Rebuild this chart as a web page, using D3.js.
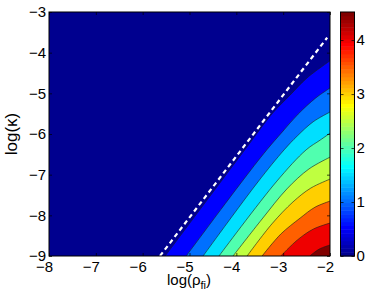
<!DOCTYPE html>
<html>
<head>
<meta charset="utf-8">
<script src="https://cdn.jsdelivr.net/npm/d3@7"></script>
<style>
  body { margin: 0; background: #fff; }
  text { font-family: "Liberation Sans", Arial, Helvetica, sans-serif; }
</style>
</head>
<body>
<div id="chart"></div>
<script>
// contour levels and top of the colour range
var levels = [0.5, 1.0, 1.5, 2.0, 2.5, 3.0, 3.5, 4.0, 4.5];
var colorMax = 4.52;

// contour lines as [log(rho_fi), log(kappa)] points
var c05 = [[-5.52, -9.00], [-3.82, -6.39], [-3.22, -5.48], [-2.85, -5.04], [-2.49, -4.62], [-2.00, -4.20]];
var c10 = [[-5.07, -9.00], [-3.92, -7.23], [-3.35, -6.39], [-3.02, -5.95], [-2.68, -5.51], [-2.30, -5.11], [-2.00, -4.87]];
var c15 = [[-4.71, -9.00], [-3.54, -7.18], [-2.98, -6.39], [-2.70, -6.05], [-2.36, -5.70], [-2.00, -5.46]];
var c20 = [[-4.37, -9.00], [-3.15, -7.18], [-2.51, -6.39], [-2.21, -6.15], [-2.00, -5.98]];
var c25 = [[-4.07, -9.00], [-3.45, -8.09], [-2.92, -7.35], [-2.45, -6.86], [-2.00, -6.57]];
var c30 = [[-3.77, -9.00], [-3.24, -8.21], [-2.79, -7.67], [-2.41, -7.33], [-2.00, -7.11]];
var c35 = [[-3.45, -9.00], [-3.05, -8.46], [-2.64, -8.07], [-2.32, -7.80], [-2.00, -7.65]];
var c40 = [[-3.05, -9.00], [-2.70, -8.61], [-2.36, -8.34], [-2.00, -8.19]];
var c45 = [[-2.43, -9.00], [-2.23, -8.83], [-2.00, -8.73]];
var contourLines = [c05, c10, c15, c20, c25, c30, c35, c40, c45];

// white dashed boundary line
var dashLine = [[-5.63, -9.00], [-2.06, -3.63]];

var xTicks = [-8, -7, -6, -5, -4, -3, -2];
var yTicks = [-9, -8, -7, -6, -5, -4, -3];
var cTicks = [0, 1, 2, 3, 4];

var svgWidth = 368;
var svgHeight = 297;

var plot = { left: 49, right: 330, top: 12, bottom: 256 };
var bar = { left: 340.5, right: 354.5 };

var svg = d3.select("#chart")
  .append("svg")
  .attr("width", svgWidth)
  .attr("height", svgHeight);

var x = d3.scaleLinear().domain([-8, -2]).range([plot.left, plot.right]);
var y = d3.scaleLinear().domain([-9, -3]).range([plot.bottom, plot.top]);
var cy = d3.scaleLinear().domain([0, colorMax]).range([plot.bottom, plot.top]);

var fmt = d3.format("d");

// MATLAB jet(64)
function jet64(i) {
  function u(j) {
    if (j < 1 || j > 47) return 0;
    if (j <= 16) return j / 16;
    if (j <= 31) return 1;
    return (48 - j) / 16;
  }
  return d3.rgb(255 * u(i - 24), 255 * u(i - 8), 255 * u(i + 8)).formatHex();
}
function colorIndex(v) {
  return Math.min(64, Math.floor(v / colorMax * 64) + 1);
}

svg.append("clipPath").attr("id", "clip")
  .append("rect")
  .attr("x", plot.left).attr("y", plot.top)
  .attr("width", plot.right - plot.left).attr("height", plot.bottom - plot.top);

var fills = svg.append("g").attr("clip-path", "url(#clip)");

// lowest band
fills.append("rect")
  .attr("x", plot.left).attr("y", plot.top)
  .attr("width", plot.right - plot.left).attr("height", plot.bottom - plot.top)
  .attr("fill", jet64(colorIndex(0)));

var line = d3.line()
  .x(d => x(d[0]))
  .y(d => y(d[1]))
  .curve(d3.curveCatmullRom.alpha(0.5));

// each region above a level lies to the right/below its contour
fills.selectAll("path.band")
  .data(contourLines)
  .enter()
  .append("path")
  .attr("class", "band")
  .attr("d", d => line(d) + "L" + x(-2) + "," + y(-9) + "Z")
  .attr("fill", (d, i) => jet64(colorIndex(levels[i])));

fills.selectAll("path.contour")
  .data(contourLines)
  .enter()
  .append("path")
  .attr("class", "contour")
  .attr("d", d => line(d))
  .attr("fill", "none")
  .attr("stroke", "#1a1a1a")
  .attr("stroke-width", 0.6);

fills.append("path")
  .datum(dashLine)
  .attr("d", d3.line().x(d => x(d[0])).y(d => y(d[1])))
  .attr("fill", "none")
  .attr("stroke", "#fff")
  .attr("stroke-width", 2.2)
  .attr("stroke-dasharray", "4.5,3.5");

// axes, ticks pointing inward
function styleAxis(g) {
  g.select(".domain").remove();
  g.selectAll("line").attr("stroke", "#000").attr("stroke-width", 0.7);
  g.selectAll("text").attr("font-size", 15).attr("fill", "#000");
}

svg.append("g")
  .attr("transform", `translate(0, ${plot.bottom})`)
  .call(d3.axisBottom(x).tickValues(xTicks).tickSize(-3).tickPadding(5).tickFormat(fmt))
  .call(styleAxis)
  .selectAll("text").attr("dx", -5);

svg.append("g")
  .attr("transform", `translate(0, ${plot.top})`)
  .call(d3.axisTop(x).tickValues(xTicks).tickSize(-3).tickFormat(""))
  .call(styleAxis);

svg.append("g")
  .attr("transform", `translate(${plot.left}, 0)`)
  .call(d3.axisLeft(y).tickValues(yTicks).tickSize(-3).tickPadding(3).tickFormat(fmt))
  .call(styleAxis);

svg.append("g")
  .attr("transform", `translate(${plot.right}, 0)`)
  .call(d3.axisRight(y).tickValues(yTicks).tickSize(-3).tickFormat(""))
  .call(styleAxis);

svg.append("rect")
  .attr("x", plot.left).attr("y", plot.top)
  .attr("width", plot.right - plot.left).attr("height", plot.bottom - plot.top)
  .attr("fill", "none")
  .attr("stroke", "#000")
  .attr("stroke-width", 1);

// colorbar
var steps = d3.range(64);
svg.append("g").selectAll("rect")
  .data(steps)
  .enter()
  .append("rect")
  .attr("x", bar.left)
  .attr("width", bar.right - bar.left)
  .attr("y", d => cy((d + 1) * colorMax / 64))
  .attr("height", d => cy(d * colorMax / 64) - cy((d + 1) * colorMax / 64) + 0.5)
  .attr("fill", d => jet64(d + 1));

svg.append("g")
  .attr("transform", `translate(${bar.right}, 0)`)
  .call(d3.axisRight(cy).tickValues(cTicks).tickSize(-3).tickPadding(2).tickFormat(fmt))
  .call(styleAxis);

svg.append("g")
  .attr("transform", `translate(${bar.left}, 0)`)
  .call(d3.axisLeft(cy).tickValues(cTicks).tickSize(-3).tickFormat(""))
  .call(styleAxis);

svg.append("rect")
  .attr("x", bar.left).attr("y", plot.top)
  .attr("width", bar.right - bar.left).attr("height", plot.bottom - plot.top)
  .attr("fill", "none")
  .attr("stroke", "#000")
  .attr("stroke-width", 1);

// axis labels
var xLabel = svg.append("text")
  .attr("x", 189)
  .attr("y", 285)
  .attr("text-anchor", "middle")
  .attr("font-size", 15);
xLabel.append("tspan").text("log(ρ");
xLabel.append("tspan").attr("font-size", 11).attr("dy", 4).text("fi");
xLabel.append("tspan").attr("dy", -4).text(")");

svg.append("text")
  .attr("transform", `translate(17, ${(plot.top + plot.bottom) / 2}) rotate(-90)`)
  .attr("text-anchor", "middle")
  .attr("font-size", 17)
  .text("log(κ)");
</script>
</body>
</html>
